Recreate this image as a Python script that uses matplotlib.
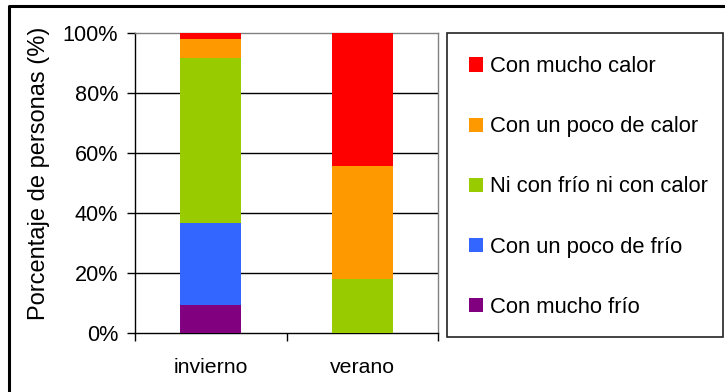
import matplotlib
matplotlib.use("Agg")
import matplotlib.pyplot as plt
from matplotlib.patches import Rectangle, Patch
from matplotlib.lines import Line2D
from matplotlib.ticker import FixedLocator, PercentFormatter

plt.rcParams['font.family'] = ['Liberation Sans', 'DejaVu Sans']

# Data (percent of people)
seasons = ["invierno", "verano"]
categories = ["Con mucho frío", "Con un poco de frío", "Ni con frío ni con calor",
              "Con un poco de calor", "Con mucho calor"]
colors = ["#800080", "#3366FF", "#99CC00", "#FF9900", "#FF0000"]
values = {
    "Con mucho frío":           [9.2, 0.0],
    "Con un poco de frío":      [27.5, 0.0],
    "Ni con frío ni con calor": [55.0, 18.1],
    "Con un poco de calor":     [6.4, 37.6],
    "Con mucho calor":          [1.9, 44.3],
}
yticks = [0, 20, 40, 60, 80, 100]

W, H = 725, 392
fig = plt.figure(figsize=(W / 100, H / 100), dpi=100)
ax = fig.add_axes([135 / W, 1 - 333 / H, (438 - 135) / W, 300 / H])

x = list(range(len(seasons)))
bottom = [0.0] * len(seasons)
for cat, col in zip(categories, colors):
    vals = values[cat]
    ax.bar(x, vals, width=0.4, bottom=bottom, color=col, linewidth=0, zorder=3)
    bottom = [b + v for b, v in zip(bottom, vals)]

ax.set_xlim(-0.5, len(seasons) - 0.5)
ax.set_ylim(0, 100)
ax.yaxis.set_major_locator(FixedLocator(yticks))
ax.yaxis.set_major_formatter(PercentFormatter(decimals=0))
ax.set_xticks(x)
ax.set_xticklabels(seasons)
ax.xaxis.set_minor_locator(FixedLocator([-0.5, 0.5, 1.5]))
ax.tick_params(axis='x', which='major', length=0, pad=18, labelsize=15.3)
ax.tick_params(axis='x', which='minor', length=6, width=1, direction='out', color='black')
ax.tick_params(axis='y', length=6, width=1, direction='out', labelsize=15.6, pad=6)
for yv in yticks[1:-1]:
    ax.axhline(yv, color='black', linewidth=1, zorder=1)

ax.spines['left'].set_color('black')
ax.spines['bottom'].set_color('black')
ax.spines['top'].set_color('#808080')
ax.spines['right'].set_color('#808080')
for s in ax.spines.values():
    s.set_linewidth(1)

ax.set_ylabel("Porcentaje de personas (%)", fontsize=17)
ax.yaxis.set_label_coords((50 - 135) / 303, (333 - 173) / 300)

# Legend box
fig.patches.append(Rectangle((447 / W, 1 - 337 / H), (723 - 447) / W, (337 - 33) / H,
                             transform=fig.transFigure, fill=False,
                             edgecolor='#222222', linewidth=1.2))
handles = [Patch(facecolor=c, edgecolor='none') for c in colors[::-1]]
fig.legend(handles, categories[::-1], loc='center left',
           bbox_to_anchor=(469 / W, 1 - 187 / H), frameon=False,
           fontsize=15.8, handlelength=0.63, handleheight=0.63,
           handletextpad=0.32, labelspacing=1.78, borderpad=0, borderaxespad=0)

# Outer frame
fig.add_artist(Line2D([9 / W, 9 / W, 1.0], [0.0, 1 - 6 / H, 1 - 6 / H],
                      transform=fig.transFigure, color='black', linewidth=2.2))

fig.savefig("out.png", dpi=100)
